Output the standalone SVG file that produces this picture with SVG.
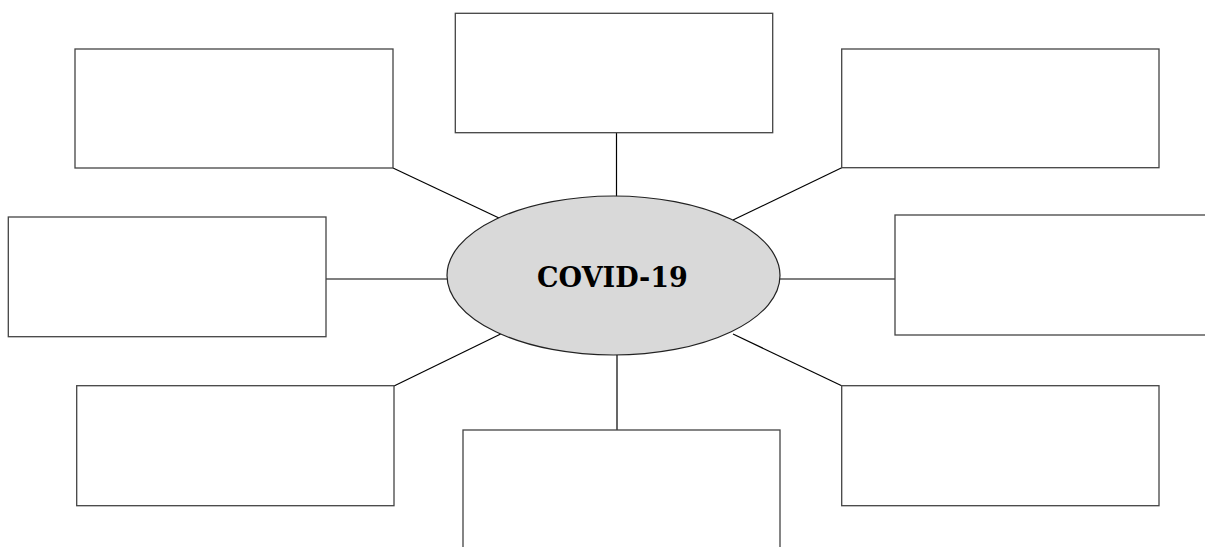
<svg xmlns="http://www.w3.org/2000/svg" width="1205" height="547" viewBox="0 0 1205 547">
<style>
.box{fill:#fff;stroke:#444;stroke-width:1.3}
.conn line{stroke:#000;stroke-width:1.2}
.hub{fill:#d9d9d9;stroke:#222;stroke-width:1.2}
.lbl{font-family:"DejaVu Serif","Liberation Serif",serif;font-weight:bold;font-size:27px;fill:#000}
</style>
<rect width="1205" height="547" fill="#fff"/>
<g class="conn" id="connectors">
<line x1="616.5" y1="132.7" x2="616.5" y2="196.5"/>
<line x1="393" y1="168" x2="499" y2="218"/>
<line x1="733" y1="220" x2="841.7" y2="167.7"/>
<line x1="326" y1="279" x2="447" y2="279"/>
<line x1="780" y1="279" x2="895" y2="279"/>
<line x1="394" y1="386" x2="500.7" y2="334"/>
<line x1="733" y1="334" x2="841.7" y2="385.7"/>
<line x1="617" y1="355" x2="617" y2="430"/>
</g>
<g id="box-top"><rect class="box" x="455.3" y="13.3" width="317.4" height="119.4"/></g>
<g id="box-top-left"><rect class="box" x="75" y="49" width="318" height="119"/></g>
<g id="box-top-right"><rect class="box" x="841.7" y="49" width="317.3" height="118.7"/></g>
<g id="box-left"><rect class="box" x="8.3" y="217" width="317.7" height="119.7"/></g>
<g id="box-right"><rect class="box" x="895" y="215" width="330" height="120"/></g>
<g id="box-bottom-left"><rect class="box" x="76.7" y="385.7" width="317.3" height="120"/></g>
<g id="box-bottom-right"><rect class="box" x="841.7" y="385.7" width="317.3" height="120"/></g>
<g id="box-bottom"><rect class="box" x="463" y="430" width="317" height="130"/></g>
<g id="hub">
<ellipse class="hub" cx="613.5" cy="275.5" rx="166.5" ry="79.5"/>
<text class="lbl" x="612.5" y="286.5" text-anchor="middle">COVID-19</text>
</g>
</svg>
